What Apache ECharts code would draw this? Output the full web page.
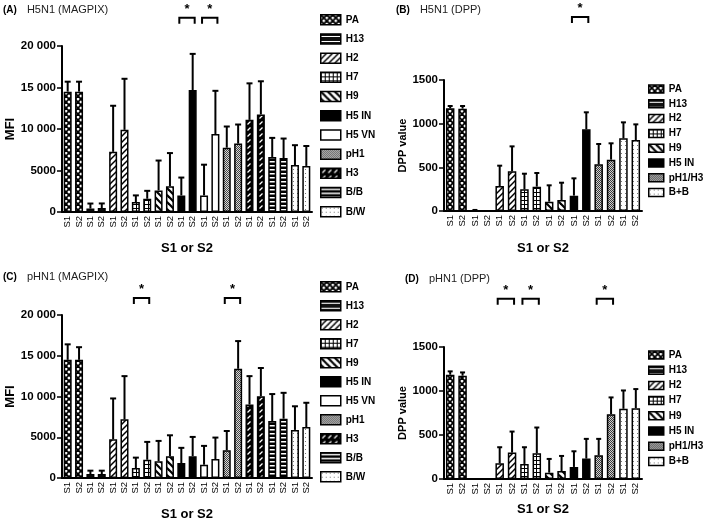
<!DOCTYPE html>
<html><head><meta charset="utf-8">
<script src="https://cdn.jsdelivr.net/npm/echarts@6/dist/echarts.min.js"></script>
<style>html,body{margin:0;padding:0;background:#fff}#c{width:709px;height:522px}</style>
</head><body><div id="c"></div>
<script>
// ---------- data ----------
const magpixGroups = ['PA','H13','H2','H7','H9','H5 IN','H5 VN','pH1','H3','B/B','B/W'];
const dppGroups = ['PA','H13','H2','H7','H9','H5 IN','pH1/H3','B+B'];
const sampleLabels = ['S1','S2'];
const magpixTickLabels = ['0','5000','10 000','15 000','20 000'];
const dppTickLabels = ['0','500','1000','1500'];

const h5MagpixMean = [14500,14500, 420,480, 7250,9900, 1200,1600, 2600,3100, 2000,14700, 2000,9400, 7750,8240, 11100,11750, 6630,6500, 5650,5550];
const h5MagpixErr  = [1200,1200, 600,550, 5550,6150, 800,950, 3600,4000, 2150,4350, 3700,5200, 2550,2300, 4400,4000, 2300,2350, 2400,2400];
const h5MagpixSig  = [[10,11],[12,13]];

const h5DppMean = [1176,1172, 8,0, 286,454, 248,279, 107,126, 176,935, 534,588, 832,813];
const h5DppErr  = [26,30, 4,0, 233,286, 179,156, 187,198, 198,195, 233,187, 183,179];
const h5DppSig  = [[10,11]];

const pHMagpixMean = [14500,14500, 490,490, 4760,7200, 1220,2240, 2070,2680, 1830,2680, 1630,2320, 3410,13400, 9020,10040, 6990,7280, 5900,6260];
const pHMagpixErr  = [1900,1550, 410,410, 5000,5300, 1280,2190, 2480,2560, 1870,2360, 2310,2640, 2360,3400, 3480,3460, 3310,3170, 2900,2970];
const pHMagpixSig  = [[6,7],[14,15]];

const pHDppMean = [1185,1174, 3,8, 178,300, 171,292, 72,91, 137,232, 270,737, 798,805];
const pHDppErr  = [38,37, 0,0, 183,239, 190,293, 156,171, 178,224, 186,190, 208,217];
const pHDppSig  = [[4,5],[6,7],[12,13]];

// ---------- patterns ----------
function tile(w,h,draw){const c=document.createElement('canvas');c.width=w;c.height=h;const g=c.getContext('2d');draw(g,w,h);return {image:c,repeat:'repeat'};}
function line(g,x1,y1,x2,y2){g.beginPath();g.moveTo(x1,y1);g.lineTo(x2,y2);g.stroke();}
const pat = {
  'PA': tile(6,6,(g)=>{g.fillStyle='#fff';g.fillRect(0,0,6,6);g.strokeStyle='#000';g.lineWidth=1.8;line(g,-1,-1,7,7);line(g,7,-1,-1,7);}),
  'H13': tile(4,5,(g)=>{g.fillStyle='#111';g.fillRect(0,0,4,5);g.fillStyle='#fff';g.fillRect(0,2,4,1);}),
  'H2': tile(6,6,(g)=>{g.fillStyle='#fff';g.fillRect(0,0,6,6);g.strokeStyle='#000';g.lineWidth=1.5;line(g,-1,7,7,-1);line(g,-1,1,1,-1);line(g,5,7,7,5);}),
  'H7': tile(4,4,(g)=>{g.fillStyle='#fff';g.fillRect(0,0,4,4);g.fillStyle='#000';g.fillRect(0,0,4,1);g.fillRect(0,0,1,4);}),
  'H9': tile(7,7,(g)=>{g.fillStyle='#fff';g.fillRect(0,0,7,7);g.strokeStyle='#000';g.lineWidth=2.2;line(g,-1,-1,8,8);line(g,-1,6,1,8);line(g,6,-1,8,1);}),
  'H5 IN': '#000',
  'H5 VN': '#fff',
  'pH1': tile(2,2,(g)=>{g.fillStyle='#d8d8d8';g.fillRect(0,0,2,2);g.fillStyle='#444';g.fillRect(0,0,1,1);g.fillRect(1,1,1,1);}),
  'pH1/H3': tile(2,2,(g)=>{g.fillStyle='#cfcfcf';g.fillRect(0,0,2,2);g.fillStyle='#3a3a3a';g.fillRect(0,0,1,1);g.fillRect(1,1,1,1);}),
  'H3': tile(6,6,(g)=>{g.fillStyle='#000';g.fillRect(0,0,6,6);g.strokeStyle='#fff';g.lineWidth=1.3;line(g,1.5,4.5,4.5,1.5);}),
  'B/B': tile(4,4,(g)=>{g.fillStyle='#000';g.fillRect(0,0,4,4);g.fillStyle='#fff';g.fillRect(0,1,4,1.5);}),
  'B/W': tile(4,4,(g)=>{g.fillStyle='#fff';g.fillRect(0,0,4,4);g.fillStyle='#777';g.fillRect(1,1,1,1);}),
  'B+B': tile(4,4,(g)=>{g.fillStyle='#fff';g.fillRect(0,0,4,4);g.fillStyle='#777';g.fillRect(1,1,1,1);})
};

const FONT = '"Liberation Sans", Arial, sans-serif';
const panels = [
  {groups: magpixGroups, mean: h5MagpixMean, err: h5MagpixErr, sig: h5MagpixSig, ticks: magpixTickLabels, max: 20000, interval: 5000,
   grid: {left:62, top:46, width:250, height:166}, yName:'MFI', yGap:44, yNameSize:13, xGap:30, barW:8, cap:3,
   title:{tag:'(A)', text:'H5N1 (MAGPIX)', left:3, top:1}, legend:{left:320, top:14, w:20, h:10, gap:7.7}, sigLevel:1.17},
  {groups: dppGroups, mean: h5DppMean, err: h5DppErr, sig: h5DppSig, ticks: dppTickLabels, max: 1500, interval: 500,
   grid: {left:444, top:80, width:198, height:131}, yName:'DPP value', yGap:35, yNameSize:11, xGap:31, barW:8.5, cap:2.5,
   title:{tag:'(B)', text:'H5N1 (DPP)', left:396, top:1}, legend:{left:648, top:84, w:15, h:8, gap:4.8}, sigLevel:1.48},
  {groups: magpixGroups, mean: pHMagpixMean, err: pHMagpixErr, sig: pHMagpixSig, ticks: magpixTickLabels, max: 20000, interval: 5000,
   grid: {left:62, top:315, width:250, height:164}, yName:'MFI', yGap:44, yNameSize:13, xGap:30, barW:8, cap:3,
   title:{tag:'(C)', text:'pHN1 (MAGPIX)', left:3, top:268}, legend:{left:320, top:281, w:20, h:10, gap:7.5}, sigLevel:1.105},
  {groups: dppGroups, mean: pHDppMean, err: pHDppErr, sig: pHDppSig, ticks: dppTickLabels, max: 1500, interval: 500,
   grid: {left:444, top:347, width:198, height:132}, yName:'DPP value', yGap:35, yNameSize:11, xGap:24, barW:8.5, cap:2.5,
   title:{tag:'(D)', text:'pHN1 (DPP)', left:405, top:270}, legend:{left:648, top:350, w:15, h:8, gap:5.2}, sigLevel:1.365}
];

const option = {animation:false, backgroundColor:'#fff', grid:[], xAxis:[], yAxis:[], series:[], legend:[], title:[]};

panels.forEach((p, k) => {
  const cats = [];
  p.groups.forEach(() => sampleLabels.forEach(s => cats.push(s)));
  option.grid.push(Object.assign({containLabel:false}, p.grid));
  option.title.push({left:p.title.left, top:p.title.top, padding:0, text:'{b|'+p.title.tag+'}  {n|'+p.title.text+'}',
    textStyle:{fontWeight:'normal', rich:{b:{fontFamily:FONT, fontWeight:'bold', fontSize:10, color:'#000'}, n:{fontFamily:FONT, fontWeight:'normal', fontSize:11, color:'#222'}}}});
  option.xAxis.push({type:'category', gridIndex:k, data:cats,
    axisLine:{lineStyle:{color:'#000', width:2}},
    axisTick:{alignWithLabel:true, length:4, lineStyle:{color:'#000', width:1.5}},
    axisLabel:{rotate:90, fontSize:9.5, color:'#000', fontFamily:FONT, margin:4, interval:0},
    name:'S1 or S2', nameLocation:'middle', nameGap:p.xGap,
    nameTextStyle:{fontFamily:FONT, fontWeight:'bold', fontSize:13, color:'#000'}});
  option.yAxis.push({type:'value', gridIndex:k, min:0, max:p.max, interval:p.interval,
    splitLine:{show:false},
    axisLine:{show:true, lineStyle:{color:'#000', width:2}},
    axisTick:{show:true, length:5, lineStyle:{color:'#000', width:1.5}},
    axisLabel:{fontFamily:FONT, fontWeight:'bold', fontSize:11.5, color:'#000', margin:6,
      formatter:(v)=>p.ticks[Math.round(v/p.interval)]},
    name:p.yName, nameLocation:'middle', nameGap:p.yGap,
    nameTextStyle:{fontFamily:FONT, fontWeight:'bold', fontSize:p.yNameSize, color:'#000'}});
  // bars, one series per group
  p.groups.forEach((g, gi) => {
    const data = cats.map((c, i) => (Math.floor(i/2) === gi ? p.mean[i] : '-'));
    option.series.push({type:'bar', name:g, xAxisIndex:k, yAxisIndex:k, stack:'s'+k, barWidth:p.barW,
      data:data, itemStyle:{color:pat[g], borderColor:'#000', borderWidth:1.5}, z:2});
  });
  // error bars
  option.series.push({type:'custom', xAxisIndex:k, yAxisIndex:k, z:3,
    data:p.mean.map((m,i)=>[i, m, m + p.err[i]]), encode:{x:0, y:[1,2]},
    renderItem:(params, api)=>{
      const i = api.value(0); const lo = api.coord([i, api.value(1)]); const hi = api.coord([i, api.value(2)]);
      if (api.value(2) - api.value(1) <= 0) return null;
      return {type:'group', children:[
        {type:'line', shape:{x1:lo[0], y1:lo[1], x2:hi[0], y2:hi[1]}, style:{stroke:'#000', lineWidth:2}},
        {type:'line', shape:{x1:hi[0]-p.cap, y1:hi[1], x2:hi[0]+p.cap, y2:hi[1]}, style:{stroke:'#000', lineWidth:2}}
      ]};
    }});
  // significance brackets
  option.series.push({type:'custom', xAxisIndex:k, yAxisIndex:k, z:3, clip:false,
    data:p.sig.map(s=>[s[0], s[1], p.max * p.sigLevel]), encode:{x:[0,1], y:2},
    renderItem:(params, api)=>{
      const a = api.coord([api.value(0), api.value(2)]); const b = api.coord([api.value(1), api.value(2)]);
      const x1 = a[0] - 2, x2 = b[0] + 2, y = a[1];
      return {type:'group', children:[
        {type:'polyline', shape:{points:[[x1, y+6],[x1, y],[x2, y],[x2, y+6]]}, style:{stroke:'#000', lineWidth:2, fill:null}},
        {type:'text', x:(x1+x2)/2, y:y-2, style:{text:'*', fontSize:13, fontWeight:'bold', fontFamily:FONT, fill:'#000', align:'center', verticalAlign:'bottom'}}
      ]};
    }});
  option.legend.push({data:p.groups, orient:'vertical', left:p.legend.left, top:p.legend.top, padding:0,
    itemWidth:p.legend.w, itemHeight:p.legend.h, itemGap:p.legend.gap, icon:'rect', selectedMode:false,
    itemStyle:{borderColor:'#000', borderWidth:1.5},
    textStyle:{fontFamily:FONT, fontWeight:'bold', fontSize:10, color:'#000', padding:[0,0,0,0]}});
});

const chart = echarts.init(document.getElementById('c'), null, {renderer:'canvas'});
chart.setOption(option);
</script>
</body></html>
